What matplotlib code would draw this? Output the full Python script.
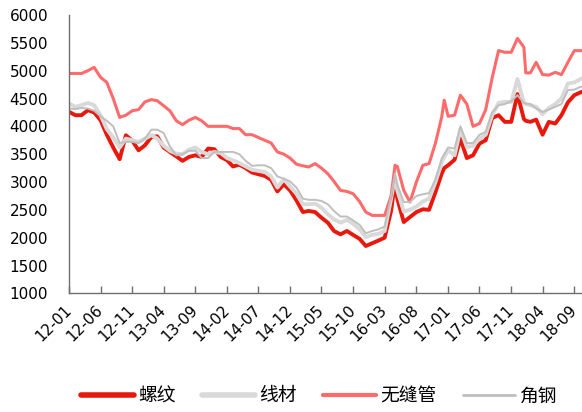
import matplotlib
matplotlib.use("Agg")
import matplotlib.pyplot as plt
import matplotlib.dates as mdates
import pandas as pd

# Observation dates (monthly, plus a few intra-month peaks)
dates = [
    "2012-01-01", "2012-02-01", "2012-03-01", "2012-04-01", "2012-05-01", "2012-06-01",
    "2012-07-01", "2012-08-01", "2012-09-01", "2012-10-01", "2012-11-01", "2012-12-01",
    "2013-01-01", "2013-02-01", "2013-03-01", "2013-04-01", "2013-05-01", "2013-06-01",
    "2013-07-01", "2013-08-01", "2013-09-01", "2013-10-01", "2013-11-01", "2013-12-01",
    "2014-01-01", "2014-02-01", "2014-03-01", "2014-04-01", "2014-05-01", "2014-06-01",
    "2014-07-01", "2014-08-01", "2014-09-01", "2014-10-01", "2014-11-01", "2014-12-01",
    "2015-01-01", "2015-02-01", "2015-03-01", "2015-04-01", "2015-05-01", "2015-06-01",
    "2015-07-01", "2015-08-01", "2015-09-01", "2015-10-01", "2015-11-01", "2015-12-01",
    "2016-01-01", "2016-02-01", "2016-03-01", "2016-04-01", "2016-04-20", "2016-05-01",
    "2016-06-01", "2016-07-01", "2016-08-01", "2016-09-01", "2016-10-01", "2016-11-01",
    "2016-12-01", "2016-12-13", "2017-01-01", "2017-02-01", "2017-03-01", "2017-04-01",
    "2017-05-01", "2017-06-01", "2017-07-01", "2017-08-01", "2017-09-01", "2017-10-01",
    "2017-11-01", "2017-12-01", "2018-01-01", "2018-01-10", "2018-02-01", "2018-03-01",
    "2018-04-01", "2018-05-01", "2018-06-01", "2018-07-01", "2018-08-01", "2018-09-01",
    "2018-10-01", "2018-10-08",
]

# 螺纹 (rebar), 元/吨
rebar = [
    4260, 4200, 4200, 4290, 4250, 4110, 3850, 3620, 3410, 3840, 3740, 3570,
    3660, 3810, 3820, 3620, 3540, 3460, 3380, 3450, 3480, 3450, 3600, 3590,
    3450, 3390, 3280, 3310, 3250, 3170, 3140, 3110, 3040, 2830, 2960, 2850,
    2670, 2460, 2480, 2460, 2360, 2270, 2120, 2060, 2120, 2050, 1980, 1850,
    1900, 1950, 2000, 2480, 3000, 2700, 2280, 2370, 2460, 2510, 2500, 2820,
    3150, 3250, 3300, 3400, 3780, 3430, 3480, 3690, 3750, 4150, 4200, 4080,
    4080, 4580, 4130, 4100, 4080, 4120, 3850, 4080, 4050, 4200, 4430, 4560,
    4610, 4620,
]

# 线材 (wire rod)
wire_rod = [
    4410, 4350, 4380, 4420, 4380, 4200, 3950, 3800, 3620, 3780, 3750, 3720,
    3780, 3840, 3780, 3650, 3560, 3510, 3500, 3580, 3620, 3540, 3500, 3540,
    3520, 3430, 3390, 3340, 3280, 3220, 3200, 3180, 3100, 2900, 3050, 2920,
    2790, 2600, 2600, 2610, 2540, 2420, 2330, 2270, 2320, 2250, 2150, 2010,
    2050, 2070, 2120, 2700, 3090, 2850, 2470, 2500, 2560, 2650, 2700, 3000,
    3350, 3450, 3570, 3480, 3950, 3630, 3650, 3780, 3850, 4200, 4420, 4440,
    4440, 4850, 4420, 4400, 4380, 4350, 4220, 4330, 4400, 4500, 4770, 4790,
    4850, 4860,
]

# 无缝管 (seamless pipe)
seamless_pipe = [
    4950, 4950, 4950, 5000, 5060, 4880, 4790, 4500, 4160, 4200, 4280, 4300,
    4440, 4480, 4460, 4370, 4280, 4100, 4030, 4110, 4160, 4100, 4000, 4000,
    4000, 4000, 3960, 3960, 3850, 3850, 3800, 3750, 3700, 3540, 3500, 3430,
    3320, 3290, 3270, 3330, 3250, 3150, 3010, 2850, 2830, 2790, 2650, 2460,
    2400, 2400, 2400, 2750, 3300, 3280, 2850, 2640, 3000, 3300, 3330, 3700,
    4170, 4470, 4180, 4200, 4560, 4400, 4000, 4050, 4300, 4870, 5360, 5330,
    5330, 5580, 5420, 4960, 4960, 5150, 4930, 4920, 4970, 4930, 5150, 5360,
    5360, 5360,
]

# 角钢 (angle steel)
angle_steel = [
    4320, 4310, 4330, 4320, 4280, 4180, 4100, 4000, 3700, 3720, 3720, 3700,
    3780, 3940, 3940, 3880, 3640, 3480, 3500, 3560, 3560, 3430, 3430, 3540,
    3540, 3540, 3540, 3500, 3380, 3290, 3300, 3300, 3250, 3100, 3060, 3010,
    2900, 2700, 2680, 2680, 2660, 2600, 2480, 2380, 2380, 2310, 2230, 2080,
    2120, 2150, 2200, 2750, 3150, 2950, 2640, 2640, 2750, 2780, 2800, 3050,
    3420, 3500, 3620, 3600, 4000, 3700, 3700, 3850, 3900, 4250, 4380, 4400,
    4450, 4560, 4420, 4410, 4400, 4320, 4260, 4300, 4350, 4400, 4650, 4660,
    4710, 4710,
]

series_names = ["螺纹", "线材", "无缝管", "角钢"]
series_values = [rebar, wire_rod, seamless_pipe, angle_steel]
series_colors = ["#E8190C", "#D9D9D9", "#FF6B6B", "#BFBFBF"]
series_widths = [2.8, 2.8, 2.2, 1.4]

plt.rcParams["font.family"] = ["DejaVu Sans"]

x = pd.to_datetime(dates)

fig = plt.figure(figsize=(5.82, 4.12), dpi=100)
ax = fig.add_axes([0.1186, 0.288, 0.8814, 0.6756])

handles = []
for name, vals, col, lw in zip(series_names, series_values, series_colors, series_widths):
    (h,) = ax.plot(x, vals, color=col, lw=lw, solid_joinstyle="round",
                   solid_capstyle="round", label=name)
    handles.append(h)

ax.set_ylim(1000, 6000)
ax.set_yticks(range(1000, 6001, 500))
ax.set_xlim(pd.Timestamp("2012-01-01"), pd.Timestamp("2018-10-08"))

xticks = pd.date_range("2012-01-01", "2018-09-01", freq="5MS")
ax.set_xticks(xticks)
ax.xaxis.set_major_formatter(mdates.DateFormatter("%y-%m"))

for s in ["top", "right"]:
    ax.spines[s].set_visible(False)
for s in ["left", "bottom"]:
    ax.spines[s].set_color("#6E6E6E")
    ax.spines[s].set_linewidth(1.0)

ax.tick_params(axis="y", length=0, pad=15, labelsize=11, colors="#000000")
ax.tick_params(axis="x", direction="in", length=5, width=1, color="#6E6E6E",
               pad=10, labelsize=11, labelcolor="#000000")
for lbl in ax.get_xticklabels():
    lbl.set_rotation(45)
    lbl.set_ha("right")
    lbl.set_va("center")
    lbl.set_rotation_mode("anchor")

leg = fig.legend(handles=handles, labels=series_names, loc="center",
                 bbox_to_anchor=(0.549, 0.039), ncol=4, frameon=False,
                 prop={"family": ["Noto Sans CJK SC", "DejaVu Sans"], "size": 13.5},
                 handlelength=2.8, handletextpad=0.25, columnspacing=1.4)
for lh, lw in zip(leg.get_lines(), [4.0, 4.0, 3.0, 2.0]):
    lh.set_linewidth(lw)

fig.savefig("out.png", dpi=100)
